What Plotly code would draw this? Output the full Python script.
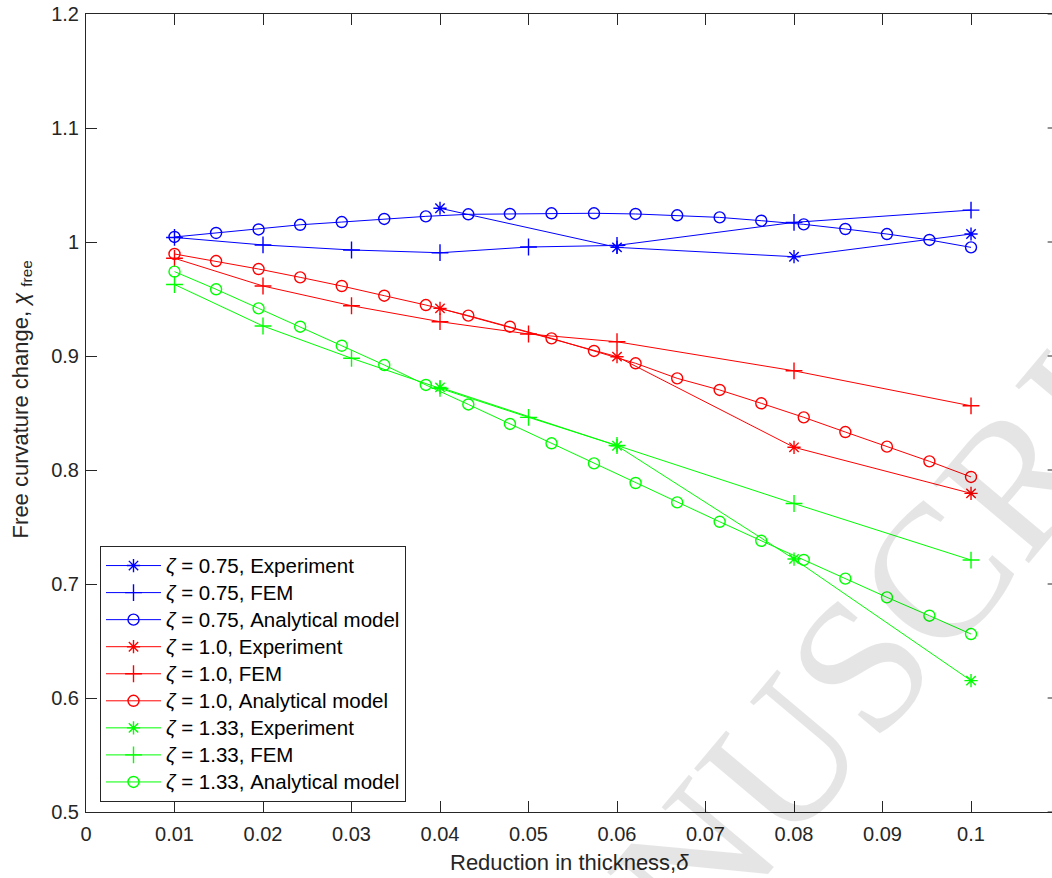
import plotly.graph_objects as go

# ---------------- data ----------------
delta_exp = [0.04, 0.06, 0.08, 0.1]
delta_fem = [0.01, 0.02, 0.03, 0.04, 0.05, 0.06, 0.08, 0.1]
delta_an = [0.0100, 0.0147, 0.0195, 0.0242, 0.0289, 0.0337, 0.0384, 0.0432, 0.0479, 0.0526,
            0.0574, 0.0621, 0.0668, 0.0716, 0.0763, 0.0811, 0.0858, 0.0905, 0.0953, 0.1000]

blue_exp = [1.0296, 0.9953, 0.9871, 1.007]
blue_fem = [1.004, 0.9974, 0.993, 0.9906, 0.9956, 0.997, 1.0172, 1.028]
blue_an = [1.0044, 1.0079, 1.011, 1.0151, 1.0175, 1.0202, 1.0225, 1.0243, 1.0246, 1.0252,
           1.0252, 1.0246, 1.0234, 1.0216, 1.0187, 1.0155, 1.0114, 1.007, 1.0018, 0.9953]

red_exp = [0.9418, 0.8994, 0.8199, 0.7795]
red_fem = [0.9857, 0.9614, 0.9441, 0.9301, 0.9193, 0.9125, 0.887, 0.8563]
red_an = [0.9895, 0.9833, 0.9763, 0.969, 0.9614, 0.9529, 0.9447, 0.9354, 0.9257, 0.9155,
          0.9044, 0.8936, 0.8804, 0.8702, 0.8585, 0.8462, 0.8333, 0.8205, 0.8076, 0.7939]

green_exp = [0.8725, 0.8213, 0.7219, 0.6152]
green_fem = [0.9627, 0.9263, 0.898, 0.8716, 0.8462, 0.8215, 0.7706, 0.721]
green_an = [0.974, 0.9585, 0.9418, 0.9257, 0.909, 0.8921, 0.8746, 0.8575, 0.8404, 0.8234,
            0.8058, 0.7886, 0.7716, 0.7546, 0.7379, 0.7211, 0.7047, 0.6883, 0.6722, 0.6561]

zetas = ["0.75", "1.0", "1.33"]
colors = ["#0000FF", "#FF0000", "#00FF00"]
series = [(blue_exp, blue_fem, blue_an), (red_exp, red_fem, red_an), (green_exp, green_fem, green_an)]

x_ticks = [0, 0.01, 0.02, 0.03, 0.04, 0.05, 0.06, 0.07, 0.08, 0.09, 0.1]
x_labels = ["0", "0.01", "0.02", "0.03", "0.04", "0.05", "0.06", "0.07", "0.08", "0.09", "0.1"]
y_ticks = [0.5, 0.6, 0.7, 0.8, 0.9, 1.0, 1.1, 1.2]
y_labels = ["0.5", "0.6", "0.7", "0.8", "0.9", "1", "1.1", "1.2"]

TXT = "#262626"
FONT = "Liberation Sans, Arial, sans-serif"


def leg(label):
    # larger glyphs while keeping the legend row pitch of the reference
    return f'<span style="font-size:20.5px">{label}</span>'


fig = go.Figure()
for (exp, fem, an), z, c in zip(series, zetas, colors):
    fig.add_trace(go.Scatter(x=delta_exp, y=exp, mode="lines+markers",
                             name=leg(f"<i>ζ</i> = {z}, Experiment"),
                             line=dict(color=c, width=1),
                             marker=dict(symbol="asterisk-open", size=11, line=dict(color=c, width=1.4))))
    fig.add_trace(go.Scatter(x=delta_fem, y=fem, mode="lines+markers",
                             name=leg(f"<i>ζ</i> = {z}, FEM"),
                             line=dict(color=c, width=1),
                             marker=dict(symbol="cross-thin-open", size=12, line=dict(color=c, width=1.4))))
    fig.add_trace(go.Scatter(x=delta_an, y=an, mode="lines+markers",
                             name=leg(f"<i>ζ</i> = {z}, Analytical model"),
                             line=dict(color=c, width=1),
                             marker=dict(symbol="circle-open", size=11, line=dict(color=c, width=1.4))))

# right-side inward tick stubs (right axis line lies just outside the picture)
shapes = []
for yv in y_ticks:
    shapes.append(dict(type="line", xref="paper", yref="y", x0=0.9955, x1=1.0, y0=yv, y1=yv,
                       line=dict(color=TXT, width=1)))

annotations = [
    dict(text="Reduction in thickness,<i>δ</i>", xref="paper", yref="paper",
         x=0.5, y=-0.0627, xanchor="center", yanchor="middle", showarrow=False,
         font=dict(size=22, color=TXT, family=FONT)),
    dict(text="Free curvature change, <i>χ</i> <sub>free</sub>", xref="paper", yref="paper",
         x=-0.0663, y=0.517, xanchor="center", yanchor="middle", textangle=-90, showarrow=False,
         font=dict(size=22, color=TXT, family=FONT)),
    dict(text="ACCEPTED MANUSCRIPT", xref="paper", yref="paper",
         x=0.445, y=-0.33, xanchor="center", yanchor="middle", textangle=-50, showarrow=False,
         font=dict(size=190, color="rgba(0,0,0,0.10)", family="Liberation Serif, Times New Roman, serif")),
]

fig.update_layout(
    width=1052, height=878,
    margin=dict(l=86, r=0, t=14, b=66),
    paper_bgcolor="white", plot_bgcolor="white",
    font=dict(family=FONT, size=20, color=TXT),
    showlegend=True,
    legend=dict(x=0.0145, y=0.3333, xanchor="left", yanchor="top",
                bgcolor="white", bordercolor=TXT, borderwidth=1,
                font=dict(size=18.5, color="black", family=FONT), itemwidth=55,
                tracegroupgap=0),
    shapes=shapes,
    annotations=annotations,
    xaxis=dict(range=[0, 0.10915], tickvals=x_ticks, ticktext=x_labels,
               ticks="inside", ticklen=11, tickcolor=TXT, tickwidth=1,
               showline=True, linecolor=TXT, linewidth=1, mirror="ticks",
               showgrid=False, zeroline=False, tickfont=dict(size=20, color=TXT),
               ticklabelstandoff=4),
    yaxis=dict(range=[0.5, 1.2], tickvals=y_ticks, ticktext=y_labels,
               ticks="inside", ticklen=11, tickcolor=TXT, tickwidth=1,
               showline=True, linecolor=TXT, linewidth=1, mirror=False,
               showgrid=False, zeroline=False, tickfont=dict(size=20, color=TXT),
               ticklabelstandoff=2),
)

fig.write_html("out.html")
